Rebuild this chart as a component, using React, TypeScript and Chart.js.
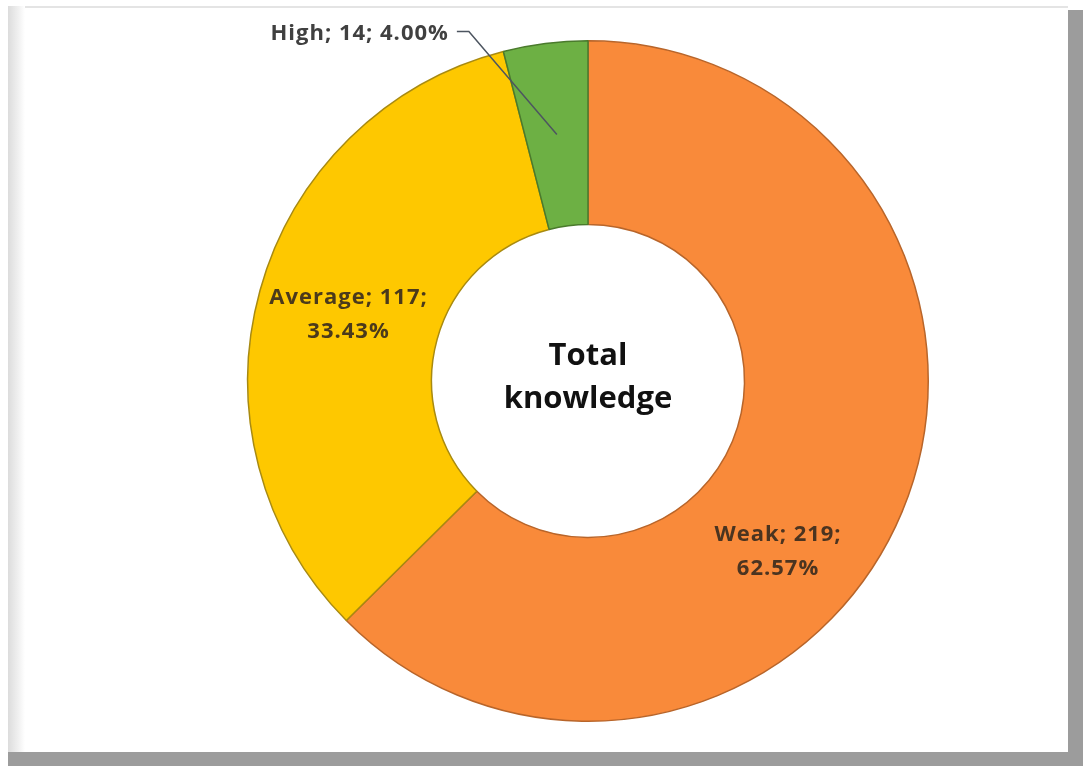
import React, { useEffect, useRef } from "react";
import { Chart, registerables } from "chart.js";

Chart.register(...registerables);

const categories = ["Weak", "Average", "High"];
const counts = [219, 117, 14];
const percentLabels = ["62.57%", "33.43%", "4.00%"];
const centerTitle = ["Total", "knowledge"];

const sliceColors = ["#F98A3A", "#FEC800", "#6DB044"];
const sliceBorders = ["#B8652A", "#A88A10", "#4A7A2C"];

// label placement: fraction along the arc angle, fraction across the ring
const labelAngleFrac = [0.586, 0.5, 0.5];
const labelRadiusFrac = [0.54, 0.5, 0.5];

const FONT = "'Open Sans', Lato, sans-serif";

const labelPlugin = {
  id: "sliceLabels",
  afterDatasetsDraw(chart: any) {
    const ctx = chart.ctx as any;
    const meta = chart.getDatasetMeta(0);
    ctx.save();
    meta.data.forEach((arc: any, i: number) => {
      const p = arc.getProps(["x", "y", "startAngle", "endAngle", "innerRadius", "outerRadius"], true);
      const a = p.startAngle + labelAngleFrac[i] * (p.endAngle - p.startAngle);
      const r = p.innerRadius + labelRadiusFrac[i] * (p.outerRadius - p.innerRadius);
      const px = p.x + Math.cos(a) * r;
      const py = p.y + Math.sin(a) * r;
      ctx.font = `bold 22px ${FONT}`;
      ctx.letterSpacing = "1px";
      ctx.fillStyle = "rgba(55,42,30,0.9)";
      if (i === 2) {
        const ex = px - 88;
        const ey = py - 103;
        ctx.strokeStyle = "#4d5560";
        ctx.lineWidth = 1.5;
        ctx.beginPath();
        ctx.moveTo(px, py);
        ctx.lineTo(ex, ey);
        ctx.lineTo(ex - 12, ey);
        ctx.stroke();
        ctx.fillStyle = "#404040";
        ctx.textAlign = "right";
        ctx.textBaseline = "middle";
        ctx.fillText(`${categories[i]}; ${counts[i]}; ${percentLabels[i]}`, ex - 20, ey + 2);
      } else {
        ctx.textAlign = "center";
        ctx.textBaseline = "middle";
        ctx.fillText(`${categories[i]}; ${counts[i]};`, px, py - 17);
        ctx.fillText(percentLabels[i], px, py + 17);
      }
    });
    const c = meta.data[0];
    ctx.letterSpacing = "0px";
    ctx.font = `bold 31px ${FONT}`;
    ctx.fillStyle = "#111111";
    ctx.textAlign = "center";
    ctx.textBaseline = "middle";
    ctx.fillText(centerTitle[0], c.x, c.y - 25);
    ctx.fillText(centerTitle[1], c.x, c.y + 18);
    ctx.restore();
  },
};

export default function App() {
  const ref = useRef<HTMLCanvasElement | null>(null);

  useEffect(() => {
    if (!ref.current) return;
    const chart = new Chart(ref.current, {
      type: "doughnut",
      data: {
        labels: categories,
        datasets: [
          {
            data: counts,
            backgroundColor: sliceColors,
            borderColor: sliceBorders,
            borderWidth: 1.5,
          },
        ],
      },
      options: {
        responsive: false,
        animation: false,
        cutout: "46%",
        layout: { padding: { left: 247, right: 155, top: 40, bottom: 45 } },
        plugins: {
          legend: { display: false },
          tooltip: { enabled: false },
          title: { display: false },
        },
      },
      plugins: [labelPlugin],
    });
    return () => chart.destroy();
  }, []);

  const gray = "#9c9c9c";
  return (
    <div style={{ position: "fixed", left: 0, top: 0, width: 1084, height: 767, background: "#ffffff", overflow: "hidden" }}>
      <div style={{ position: "absolute", left: 8, top: 6, width: 1060, height: 2, background: "#e4e4e4" }} />
      <div style={{ position: "absolute", left: 8, top: 6, width: 17, height: 746, background: "linear-gradient(to right, #dcdcdc, #f0f0f0 60%, #ffffff)" }} />
      <div style={{ position: "absolute", left: 1068, top: 10, width: 15, height: 756, background: gray }} />
      <div style={{ position: "absolute", left: 8, top: 752, width: 1075, height: 14, background: gray }} />
      <canvas
        ref={ref}
        width={1084}
        height={767}
        style={{ position: "absolute", left: 0, top: 0, width: 1084, height: 767 }}
      />
    </div>
  );
}
